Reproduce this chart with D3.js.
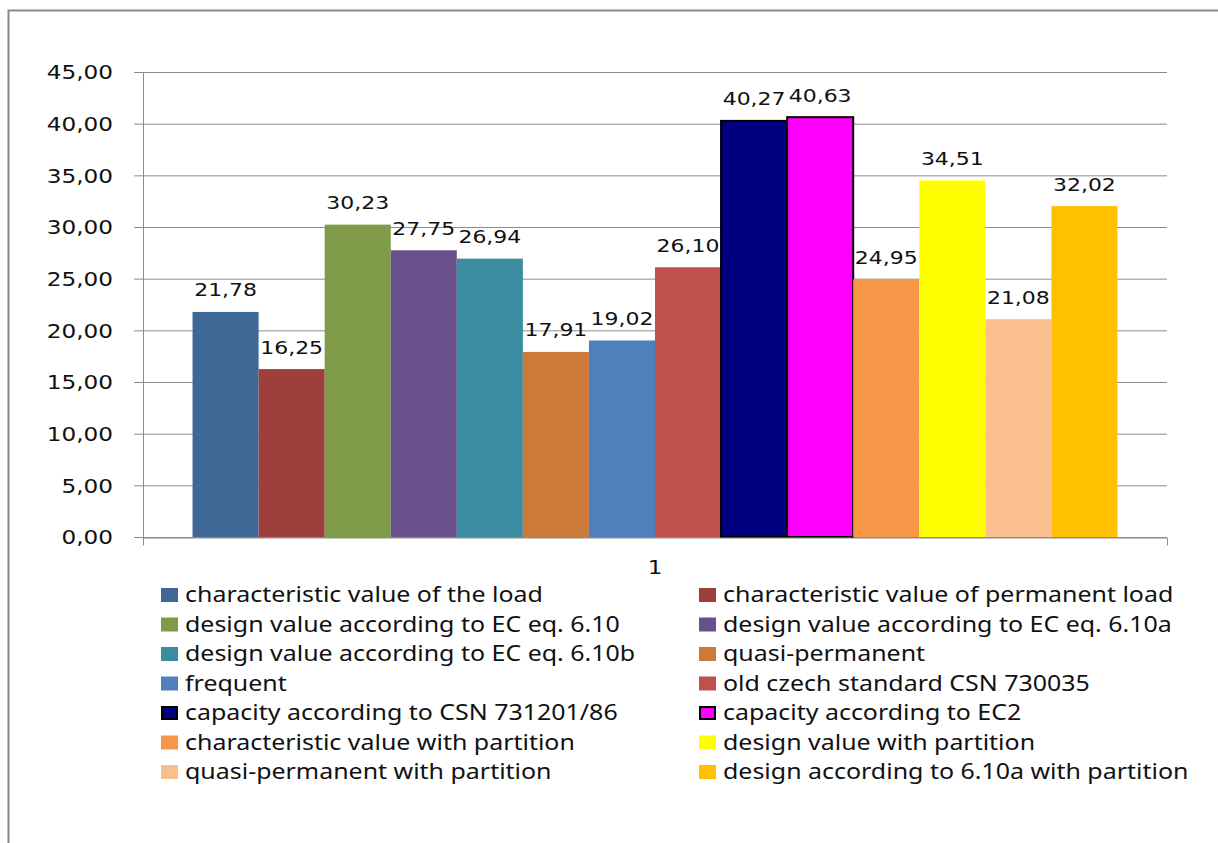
<!DOCTYPE html>
<html>
<head>
<meta charset="utf-8">
<title>Load comparison</title>
<script src="https://cdn.jsdelivr.net/npm/d3@7/dist/d3.min.js"></script>
<style>
  body { margin: 0; background: #fff; }
  .axis text { font-family: "DejaVu Sans", sans-serif; font-size: 19px; fill: #111; }
  .lbl { font-family: "DejaVu Sans", sans-serif; font-size: 18px; fill: #111; }
  .leg { font-family: "Noto Sans", sans-serif; font-size: 21.5px; fill: #111; }
</style>
</head>
<body>
<script>
// data
var categories = ["1"];
var seriesNames = [
  "characteristic value of the load",
  "characteristic value of permanent load",
  "design value according to EC eq. 6.10",
  "design value according to EC eq. 6.10a",
  "design value according to EC eq. 6.10b",
  "quasi-permanent",
  "frequent",
  "old czech standard CSN 730035",
  "capacity according to CSN 731201/86",
  "capacity according to EC2",
  "characteristic value with partition",
  "design value with partition",
  "quasi-permanent with partition",
  "design according to 6.10a with partition"
];
var values = [21.78, 16.25, 30.23, 27.75, 26.94, 17.91, 19.02, 26.10, 40.27, 40.63, 24.95, 34.51, 21.08, 32.02];
var yTicks = [0, 5, 10, 15, 20, 25, 30, 35, 40, 45];

var colors = ["#3F6897", "#9E3F3C", "#7F9A48", "#69508A", "#3B8BA1", "#CC7A37", "#4F80BC",
              "#C0504D", "#000080", "#FF00FF", "#F79646", "#FFFF00", "#FABF8F", "#FFC000"];
var outlined = [8, 9]; // bars with a black border

var W = 1218, H = 843;
var plot = {left: 143, top: 72, right: 1167, bottom: 537};
var sx = 1.22; // text looks horizontally stretched

var svg = d3.select("body").append("svg")
    .attr("width", W).attr("height", H);

// outer frame
svg.append("rect")
    .attr("x", 8.5).attr("y", 10.5)
    .attr("width", W + 20).attr("height", H + 20)
    .attr("fill", "#fff").attr("stroke", "#888").attr("stroke-width", 2);

var fmt = function(v){ return d3.format(".2f")(v).replace(".", ","); };

var y = d3.scaleLinear().domain([0, 45]).range([plot.bottom, plot.top]);

// gap width 150% -> outer padding 0.75 bar on each side
var x0 = d3.scaleBand().domain(categories)
    .range([plot.left, plot.right])
    .paddingInner(0).paddingOuter(0.75 / seriesNames.length);
var x1 = d3.scaleBand().domain(d3.range(seriesNames.length))
    .range([0, x0.bandwidth()]).padding(0);

// y axis with gridlines
var yAxis = d3.axisLeft(y).tickValues(yTicks)
    .tickSize(-(plot.right - plot.left + 9))
    .tickPadding(21)
    .tickFormat(fmt);
var gy = svg.append("g").attr("class", "axis")
    .attr("transform", "translate(" + (plot.left - 9) + ",0)")
    .call(yAxis);
gy.select(".domain").remove();
gy.selectAll(".tick line").attr("stroke", "#8c8c8c");
gy.selectAll(".tick text")
    .attr("x", -21 / sx)
    .attr("dy", "0.36em")
    .attr("transform", "scale(" + sx + ",1)");

svg.append("line")
    .attr("x1", plot.left + 0.5).attr("x2", plot.left + 0.5)
    .attr("y1", plot.top).attr("y2", plot.bottom + 8)
    .attr("stroke", "#8c8c8c");

// bars
var g = svg.append("g");
var bars = g.selectAll("rect").data(values).enter().append("rect")
    .attr("x", function(d, i){ return x0("1") + x1(i); })
    .attr("y", function(d){ return y(d); })
    .attr("width", x1.bandwidth())
    .attr("height", function(d){ return y(0) - y(d); })
    .attr("fill", function(d, i){ return colors[i]; })
    .attr("stroke", function(d, i){ return outlined.indexOf(i) >= 0 ? "#000" : "none"; })
    .attr("stroke-width", 2);

// x axis
var xAxis = d3.axisBottom(x0).tickSizeInner(0).tickSizeOuter(8).tickPadding(0);
var gx = svg.append("g").attr("class", "axis")
    .attr("transform", "translate(0," + (plot.bottom + 0.5) + ")")
    .call(xAxis);
gx.select(".domain").attr("stroke", "#8c8c8c");
gx.selectAll(".tick text")
    .attr("y", 37).attr("dy", null)
    .attr("transform", "scale(" + sx + ",1)")
    .attr("x", 0);
gx.selectAll(".tick").attr("transform", function(d){
  return "translate(" + (x0(d) + x0.bandwidth() / 2) + ",0)";
});

// value labels
g.selectAll("text").data(values).enter().append("text")
    .attr("class", "lbl")
    .attr("text-anchor", "middle")
    .attr("transform", function(d, i){
      var cx = x0("1") + x1(i) + x1.bandwidth() / 2;
      return "translate(" + cx + "," + (y(d) - 15.5) + ") scale(" + sx + ",1)";
    })
    .text(function(d){ return fmt(d); });

// legend
var legX = [161, 699], legY = 588, rowH = 29.5;
var leg = svg.append("g").selectAll("g").data(seriesNames).enter().append("g")
    .attr("transform", function(d, i){
      return "translate(" + legX[i % 2] + "," + (legY + Math.floor(i / 2) * rowH) + ")";
    });
leg.append("rect")
    .attr("x", function(d, i){ return outlined.indexOf(i) >= 0 ? 1 : 0; })
    .attr("y", function(d, i){ return outlined.indexOf(i) >= 0 ? 1 : 0; })
    .attr("width", function(d, i){ return outlined.indexOf(i) >= 0 ? 15 : 17; })
    .attr("height", function(d, i){ return outlined.indexOf(i) >= 0 ? 12 : 14; })
    .attr("fill", function(d, i){ return colors[i]; })
    .attr("stroke", function(d, i){ return outlined.indexOf(i) >= 0 ? "#000" : "none"; })
    .attr("stroke-width", 2);
var legText = leg.append("text")
    .attr("class", "leg")
    .text(function(d){ return d; });
// stretch legend text to the width of the first item (358px)
var natural = legText.node().getComputedTextLength();
var lsx = 358 / natural;
legText.attr("transform", "translate(24,14) scale(" + lsx + ",1)");
</script>
</body>
</html>
